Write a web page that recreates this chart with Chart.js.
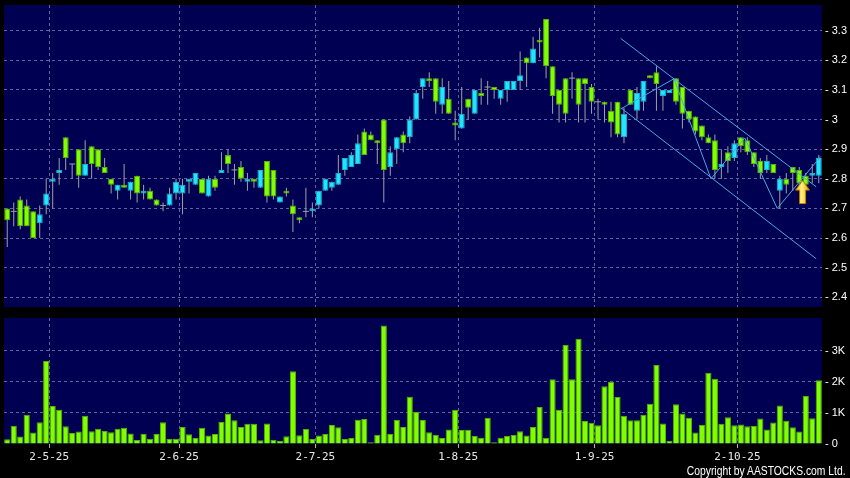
<!DOCTYPE html>
<html>
<head>
<meta charset="utf-8">
<script src="https://cdn.jsdelivr.net/npm/chart.js@4.4.1/dist/chart.umd.min.js"></script>
<style>
  html, body { margin: 0; padding: 0; background: #000; }
  body { width: 850px; height: 478px; position: relative; overflow: hidden; }
  canvas { position: absolute; left: 0; }
  #priceChart { top: 0; }
  #volChart { top: 312px; }
  #copy {
    position: absolute; right: 4px; top: 465px;
    font: 12px/12px 'Liberation Sans', Arial, sans-serif; color: #fff;
    transform: scaleX(0.86); transform-origin: right center; white-space: nowrap;
  }
</style>
</head>
<body>
<canvas id="priceChart" width="850" height="312"></canvas>
<canvas id="volChart" width="850" height="166"></canvas>
<div id="copy">Copyright by AASTOCKS.com Ltd.</div>
<script>
const dates = [
  '23-4-25','24-4-25','25-4-25','28-4-25','29-4-25','30-4-25',
  '2-5-25','6-5-25','7-5-25','8-5-25','9-5-25',
  '12-5-25','13-5-25','14-5-25','15-5-25','16-5-25',
  '19-5-25','20-5-25','21-5-25','22-5-25','23-5-25',
  '26-5-25','27-5-25','28-5-25','29-5-25','30-5-25',
  '2-6-25','3-6-25','4-6-25','5-6-25','6-6-25',
  '9-6-25','10-6-25','11-6-25','12-6-25','13-6-25',
  '16-6-25','17-6-25','18-6-25','19-6-25','20-6-25',
  '23-6-25','24-6-25','25-6-25','26-6-25','27-6-25','30-6-25',
  '2-7-25','3-7-25','4-7-25',
  '7-7-25','8-7-25','9-7-25','10-7-25','11-7-25',
  '14-7-25','15-7-25','16-7-25','17-7-25','18-7-25',
  '21-7-25','22-7-25','23-7-25','24-7-25','25-7-25',
  '28-7-25','29-7-25','30-7-25','31-7-25',
  '1-8-25','4-8-25','5-8-25','6-8-25','7-8-25','8-8-25',
  '11-8-25','12-8-25','13-8-25','14-8-25','15-8-25',
  '18-8-25','19-8-25','20-8-25','21-8-25','22-8-25',
  '25-8-25','26-8-25','27-8-25','28-8-25','29-8-25',
  '1-9-25','2-9-25','3-9-25','4-9-25','5-9-25',
  '8-9-25','9-9-25','10-9-25','11-9-25','12-9-25',
  '15-9-25','16-9-25','17-9-25','18-9-25','19-9-25',
  '22-9-25','23-9-25','24-9-25','25-9-25','26-9-25',
  '29-9-25','30-9-25',
  '2-10-25','3-10-25','6-10-25','8-10-25','9-10-25','10-10-25',
  '13-10-25','14-10-25','15-10-25','16-10-25','17-10-25',
  '20-10-25','21-10-25','22-10-25'
];

const open = [
  2.70,2.69,2.73,2.71,2.69,2.65,2.71,2.79,2.82,2.94,
  2.85,2.90,2.81,2.91,2.90,2.84,2.80,2.76,2.78,2.76,
  2.81,2.75,2.76,2.73,2.71,2.71,2.75,2.75,2.79,2.78,
  2.80,2.74,2.80,2.82,2.88,2.83,2.84,2.79,2.80,2.77,
  2.86,2.83,2.72,2.76,2.71,2.67,2.69,2.69,2.71,2.76,
  2.77,2.78,2.83,2.84,2.85,2.96,2.95,2.93,3.00,2.84,
  2.90,2.95,2.94,3.00,3.11,3.14,3.14,3.05,3.07,2.99,
  2.97,3.07,3.02,3.09,3.11,3.11,3.07,3.10,3.10,3.13,
  3.21,3.19,3.27,3.34,3.18,3.10,3.14,3.14,3.14,3.14,
  3.11,3.06,3.06,3.03,3.06,2.94,3.10,3.03,3.06,3.15,
  3.16,3.08,3.09,3.14,3.11,3.03,3.01,2.98,2.94,2.93,
  2.84,2.89,2.87,2.94,2.93,2.89,2.86,2.83,2.85,2.76,
  2.80,2.84,2.83,2.81,2.81,2.81
];
const high = [
  2.70,2.72,2.74,2.73,2.69,2.71,2.80,2.82,2.87,2.94,
  2.85,2.90,2.93,2.91,2.90,2.87,2.80,2.78,2.85,2.79,
  2.81,2.78,2.77,2.73,2.72,2.77,2.80,2.80,2.80,2.82,
  2.80,2.81,2.81,2.89,2.90,2.85,2.86,2.82,2.80,2.83,
  2.86,2.83,2.74,2.77,2.73,2.67,2.77,2.72,2.76,2.80,
  2.79,2.88,2.87,2.89,2.95,2.97,2.96,2.93,3.00,2.91,
  2.94,2.96,3.01,3.10,3.14,3.16,3.14,3.14,3.13,3.03,
  3.11,3.07,3.10,3.14,3.13,3.11,3.10,3.13,3.13,3.23,
  3.21,3.28,3.31,3.34,3.18,3.10,3.14,3.16,3.14,3.14,
  3.12,3.07,3.06,3.06,3.06,3.04,3.10,3.11,3.13,3.15,
  3.18,3.10,3.10,3.14,3.11,3.03,3.01,2.98,2.95,2.95,
  2.90,2.91,2.93,2.94,2.94,2.89,2.87,2.88,2.85,2.81,
  2.82,2.84,2.84,2.82,2.85,2.88
];
const low = [
  2.57,2.64,2.63,2.64,2.60,2.60,2.68,2.70,2.78,2.83,
  2.80,2.77,2.81,2.80,2.83,2.82,2.75,2.73,2.77,2.73,
  2.72,2.73,2.73,2.71,2.69,2.71,2.73,2.68,2.75,2.78,
  2.75,2.74,2.76,2.82,2.82,2.78,2.79,2.76,2.77,2.77,
  2.72,2.73,2.72,2.74,2.62,2.65,2.67,2.67,2.70,2.76,
  2.76,2.78,2.81,2.84,2.85,2.88,2.93,2.85,2.72,2.81,
  2.85,2.89,2.92,3.00,3.07,3.11,3.02,3.02,3.02,2.93,
  2.97,3.00,3.02,3.05,3.05,3.07,3.05,3.06,3.10,3.10,
  3.11,3.19,3.21,3.14,3.02,2.99,2.99,3.07,2.99,2.99,
  3.02,3.00,2.99,2.94,2.94,2.92,3.05,3.00,3.03,3.14,
  3.03,3.03,3.09,3.05,2.97,2.99,2.95,2.93,2.92,2.80,
  2.80,2.82,2.86,2.89,2.88,2.84,2.80,2.82,2.82,2.70,
  2.75,2.76,2.77,2.77,2.785,2.785
];
const close = [
  2.66,2.69,2.64,2.64,2.60,2.68,2.75,2.80,2.83,2.87,
  2.85,2.81,2.85,2.85,2.84,2.82,2.78,2.78,2.77,2.79,
  2.75,2.76,2.73,2.71,2.71,2.75,2.79,2.78,2.80,2.82,
  2.75,2.80,2.77,2.83,2.85,2.83,2.80,2.80,2.79,2.83,
  2.74,2.74,2.74,2.75,2.68,2.66,2.69,2.70,2.76,2.80,
  2.79,2.82,2.87,2.88,2.92,2.88,2.93,2.92,2.83,2.89,
  2.94,2.92,3.00,3.09,3.14,3.13,3.06,3.11,3.02,2.98,
  3.02,3.04,3.10,3.08,3.11,3.10,3.10,3.13,3.13,3.15,
  3.19,3.24,3.26,3.18,3.08,3.05,3.02,3.14,3.05,3.12,
  3.06,3.06,3.05,2.99,2.95,3.02,3.05,3.09,3.13,3.14,
  3.12,3.10,3.10,3.06,3.02,3.00,2.96,2.94,2.92,2.83,
  2.85,2.86,2.92,2.91,2.89,2.85,2.82,2.86,2.82,2.80,
  2.78,2.82,2.785,2.78,2.82,2.87
];
// volume in thousands
const volume = [
  0.15,0.59,0.24,0.94,0.37,0.70,2.67,1.22,1.10,0.57,
  0.35,0.40,0.91,0.41,0.49,0.42,0.38,0.49,0.52,0.34,
  0.13,0.33,0.17,0.32,0.70,0.16,0.17,0.55,0.31,0.19,
  0.52,0.27,0.32,0.71,0.98,0.76,0.55,0.65,0.65,0.12,
  0.66,0.14,0.10,0.25,2.34,0.28,0.48,0.16,0.27,0.32,
  0.61,0.54,0.16,0.19,0.78,0.80,0.06,0.30,3.81,0.32,
  0.77,0.55,1.52,1.03,0.77,0.38,0.30,0.19,0.47,1.10,
  0.45,0.46,0.26,0.20,0.84,0.06,0.20,0.26,0.29,0.41,
  0.27,0.55,1.19,0.20,2.08,1.10,3.18,2.08,3.38,0.74,
  0.68,0.60,1.86,2.00,1.51,0.91,0.76,0.76,0.94,1.29,
  2.54,0.66,0.10,1.28,0.98,0.84,0.37,0.61,2.29,2.10,
  0.65,0.86,0.60,0.63,0.57,0.58,0.82,0.47,0.69,1.24,
  0.75,0.54,0.40,1.54,0.83,2.05
];

const monthTicks = ['2-5-25', '2-6-25', '2-7-25', '1-8-25', '1-9-25', '2-10-25'];
const priceTicks = [2.4, 2.5, 2.6, 2.7, 2.8, 2.9, 3, 3.1, 3.2, 3.3];
const volumeTicks = [0, 1, 2, 3];

// drawn trend channel, in (bar index, price)
const channelUpper = [{x: 94.5, y: 3.274}, {x: 124.6, y: 2.773}];
const channelLower = [{x: 94.5, y: 3.04}, {x: 124.6, y: 2.53}];
const zigzag = [
  {x: 94.5, y: 3.036}, {x: 102.7, y: 3.138}, {x: 108.4, y: 2.80},
  {x: 113.6, y: 2.938}, {x: 118.6, y: 2.70}, {x: 125.3, y: 2.875}
];
const arrowMark = [{x: 122.5, y: 2.755}];

const BG = '#000052';
const GRID = '#62629e';
const UP = '#22e4ff', UP_EDGE = '#14b4cc';
const DOWN = '#80ff00', DOWN_EDGE = '#58b000';
const WICK = '#a0a0a0';
const TREND = '#4aa8e0';
const N = dates.length;

const panelBg = {
  id: 'panelBg',
  beforeDraw(chart) {
    const { ctx, chartArea: a } = chart;
    ctx.save();
    ctx.fillStyle = BG;
    ctx.fillRect(a.left, a.top, a.right - a.left, a.bottom - a.top);
    ctx.restore();
  }
};

const isMonthLine = i => i > 0 && monthTicks.includes(dates[i - 1]);

// axis labels may hang over the panel edge, like the original
const noEdgePadding = s => {
  s.paddingTop = 0; s.paddingBottom = 0; s.paddingLeft = 0; s.paddingRight = 0;
};

// yellow arrow marker
const arrowImg = document.createElement('canvas');
arrowImg.width = 15;
arrowImg.height = 24;
(() => {
  const a = arrowImg.getContext('2d');
  const g = a.createLinearGradient(0, 0, 15, 0);
  g.addColorStop(0, '#f2b800');
  g.addColorStop(0.45, '#fff480');
  g.addColorStop(1, '#e39400');
  a.fillStyle = g;
  a.strokeStyle = '#c77800';
  a.lineWidth = 1;
  a.beginPath();
  a.moveTo(7.5, 0.5);
  a.lineTo(14.5, 10);
  a.lineTo(10.5, 10);
  a.lineTo(10.5, 23.5);
  a.lineTo(4.5, 23.5);
  a.lineTo(4.5, 10);
  a.lineTo(0.5, 10);
  a.closePath();
  a.fill();
  a.stroke();
})();

const isDown = i => close[i] < open[i];

new Chart(document.getElementById('priceChart'), {
  type: 'bar',
  data: {
    labels: dates,
    datasets: [
      {
        type: 'line', order: -2, xAxisID: 'xl', data: arrowMark,
        showLine: false, pointStyle: arrowImg, pointRadius: 10
      },
      {
        type: 'line', order: -1, xAxisID: 'xl', data: channelUpper,
        borderColor: TREND, borderWidth: 1, pointRadius: 0, tension: 0
      },
      {
        type: 'line', order: -1, xAxisID: 'xl', data: channelLower,
        borderColor: TREND, borderWidth: 1, pointRadius: 0, tension: 0
      },
      {
        type: 'line', order: -1, xAxisID: 'xl', data: zigzag,
        borderColor: TREND, borderWidth: 1, pointRadius: 0, tension: 0
      },
      {
        type: 'line', order: 0,
        data: open.map((o, i) => (o === close[i] ? o : null)),
        showLine: false, pointStyle: 'line', pointRadius: 3,
        pointBorderColor: WICK, pointBorderWidth: 1
      },
      {
        order: 1, grouped: false, barThickness: 6, inflateAmount: 0,
        data: open.map((o, i) => (o === close[i] ? null : [Math.min(o, close[i]), Math.max(o, close[i])])),
        backgroundColor: ctx => (isDown(ctx.dataIndex) ? DOWN : UP),
        borderColor: ctx => (isDown(ctx.dataIndex) ? DOWN_EDGE : UP_EDGE),
        borderWidth: 1, borderSkipped: false
      },
      {
        order: 2, grouped: false, barThickness: 1, inflateAmount: 0,
        data: low.map((l, i) => [l, high[i]]),
        backgroundColor: WICK, borderWidth: 0
      }
    ]
  },
  options: {
    responsive: false,
    animation: false,
    events: [],
    layout: { autoPadding: false, padding: { left: 4, right: 0, top: 5, bottom: 5 } },
    plugins: { legend: { display: false }, tooltip: { enabled: false } },
    scales: {
      x: {
        type: 'category', offset: true,
        grid: {
          offset: true, drawTicks: false, lineWidth: 1,
          color: ctx => (isMonthLine(ctx.index) ? GRID : 'transparent')
        },
        border: { display: false, dash: [3, 3] },
        ticks: { display: false, autoSkip: false, maxRotation: 0 },
        afterFit: s => { s.height = 0; noEdgePadding(s); }
      },
      xl: {
        type: 'linear', display: false, offset: false, min: -0.5, max: N - 0.5
      },
      y: {
        position: 'right', min: 2.367, max: 3.387,
        afterBuildTicks: s => { s.ticks = priceTicks.map(v => ({ value: v })); },
        afterFit: s => { s.width = 28; noEdgePadding(s); },
        grid: { color: GRID, drawTicks: false },
        border: { display: false, dash: [3, 3] },
        ticks: {
          color: '#ffffff', padding: 3,
          font: { family: "'Liberation Sans', Arial, sans-serif", size: 11 },
          callback: v => '- ' + v
        }
      }
    }
  },
  plugins: [panelBg]
});

new Chart(document.getElementById('volChart'), {
  type: 'bar',
  data: {
    labels: dates,
    datasets: [{
      data: volume,
      backgroundColor: DOWN, borderColor: DOWN_EDGE, borderWidth: 1,
      categoryPercentage: 1, barPercentage: 0.95, inflateAmount: 0
    }]
  },
  options: {
    responsive: false,
    animation: false,
    events: [],
    layout: { autoPadding: false, padding: { left: 4, right: 0, top: 6, bottom: 0 } },
    plugins: { legend: { display: false }, tooltip: { enabled: false } },
    scales: {
      x: {
        type: 'category', offset: true,
        grid: {
          offset: true, drawTicks: true, tickLength: 4,
          color: ctx => (isMonthLine(ctx.index) ? GRID : 'transparent'),
          tickColor: ctx => (isMonthLine(ctx.index) ? '#b0b0b0' : 'transparent')
        },
        border: { display: false, dash: [3, 3] },
        ticks: {
          autoSkip: false, maxRotation: 0, minRotation: 0, padding: 3, labelOffset: 3,
          color: '#e8e8e8',
          font: { family: "'DejaVu Sans Mono', monospace", size: 11 },
          callback: (v, i) => (monthTicks.includes(dates[i]) ? dates[i] : '')
        },
        afterFit: s => { s.height = 34; noEdgePadding(s); }
      },
      y: {
        position: 'right', min: 0, max: 4.05,
        afterBuildTicks: s => { s.ticks = volumeTicks.map(v => ({ value: v })); },
        afterFit: s => { s.width = 28; noEdgePadding(s); },
        grid: { color: ctx => (ctx.tick && ctx.tick.value === 0 ? 'transparent' : GRID), drawTicks: false },
        border: { display: false, dash: [3, 3] },
        ticks: {
          color: '#ffffff', padding: 3,
          font: { family: "'Liberation Sans', Arial, sans-serif", size: 11 },
          callback: v => (v === 0 ? '- 0' : '- ' + v + 'K')
        }
      }
    }
  },
  plugins: [panelBg]
});
</script>
</body>
</html>
